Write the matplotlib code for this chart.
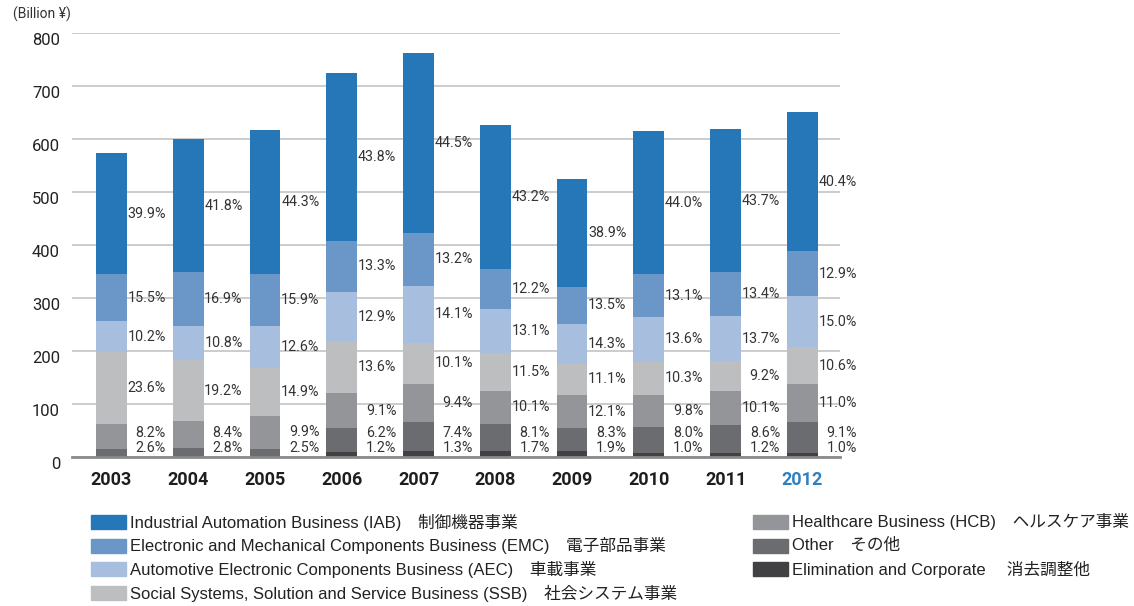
import matplotlib
matplotlib.use("Agg")
import matplotlib.pyplot as plt
from matplotlib.patches import Rectangle
from matplotlib.transforms import ScaledTranslation
import numpy as np

years = ["2003", "2004", "2005", "2006", "2007", "2008", "2009", "2010", "2011", "2012"]
totals = [573, 600, 617, 724, 763, 627, 525, 617, 620, 651]

# share of each segment (%) as printed next to the bars
pct_iab = [39.9, 41.8, 44.3, 43.8, 44.5, 43.2, 38.9, 44.0, 43.7, 40.4]
pct_emc = [15.5, 16.9, 15.9, 13.3, 13.2, 12.2, 13.5, 13.1, 13.4, 12.9]
pct_aec = [10.2, 10.8, 12.6, 12.9, 14.1, 13.1, 14.3, 13.6, 13.7, 15.0]
pct_ssb = [23.6, 19.2, 14.9, 13.6, 10.1, 11.5, 11.1, 10.3, 9.2, 10.6]
pct_hcb = [8.2, 8.4, 9.9, 9.1, 9.4, 10.1, 12.1, 9.8, 10.1, 11.0]
pct_other = [2.6, 2.8, 2.5, 6.2, 7.4, 8.1, 8.3, 8.0, 8.6, 9.1]
pct_elim = [0, 0, 0, 1.2, 1.3, 1.7, 1.9, 1.0, 1.2, 1.0]

names = [
    "Industrial Automation Business (IAB)\u3000制御機器事業",
    "Electronic and Mechanical Components Business (EMC)\u3000電子部品事業",
    "Automotive Electronic Components Business (AEC)\u3000車載事業",
    "Social Systems, Solution and Service Business (SSB)\u3000社会システム事業",
    "Healthcare Business (HCB)\u3000ヘルスケア事業",
    "Other\u3000その他",
    "Elimination and Corporate \u3000消去調整他",
]
colors = ["#2577b8", "#6b96c8", "#a8bedf", "#bdbec0", "#939598", "#6b6c70", "#414143"]

# bottom to top
stack = [pct_elim, pct_other, pct_hcb, pct_ssb, pct_aec, pct_emc, pct_iab]
stack_colors = colors[::-1]

narrow = ["Roboto", "DejaVu Sans"]
legend_font = ["Liberation Sans", "Noto Sans CJK JP", "DejaVu Sans"]
text_color = "#333333"

fig = plt.figure(figsize=(11.34, 6.06), dpi=100)
ax = fig.add_axes([72 / 1134, 1 - 456.7 / 606, 768 / 1134, 423.4 / 606])

x = np.arange(len(years))
width = 0.40
totals = np.array(totals, dtype=float)
bottom = np.zeros(len(years))
centers = []
for pct, col in zip(stack, stack_colors):
    h = totals * np.array(pct) / 100
    ax.bar(x, h, width, bottom=bottom, color=col, zorder=2)
    centers.append(bottom + h / 2)
    bottom = bottom + h

# percentage labels, pushed up where small segments would overlap
for i in range(len(years)):
    prev = None
    for pct, c in zip(stack, centers):
        if pct[i] == 0:
            continue
        y = max(c[i], 16) if prev is None else max(c[i], prev + 28)
        prev = y
        ax.text(x[i] + 0.71, y, f"{pct[i]:.1f}%", ha="right", va="center",
                fontsize=10.3, family=narrow, color=text_color, clip_on=False)

ax.set_xlim(-0.514, 9.49)
ax.set_ylim(0, 800)
ax.set_yticks(range(0, 801, 100))
ax.yaxis.grid(True, color="#c8c8c8", linewidth=1.3, zorder=0)
ax.set_axisbelow(True)
for s in ["top", "right", "left"]:
    ax.spines[s].set_visible(False)
ax.spines["bottom"].set_color("#8a8a8a")
ax.spines["bottom"].set_linewidth(2)
ax.spines["bottom"].set_zorder(3)
ax.tick_params(axis="y", length=0, pad=8.6, labelsize=12, labelcolor="#222222")
ax.tick_params(axis="x", length=0, pad=10, labelsize=13)
ax.set_xticks(x)
ax.set_xticklabels(years, fontweight="bold", family=narrow)
for lbl in ax.get_xticklabels():
    lbl.set_color("#2f80c0" if lbl.get_text() == "2012" else "#1e1e1e")
for lbl in ax.get_yticklabels():
    lbl.set_family(narrow)
    lbl.set_transform(lbl.get_transform() + ScaledTranslation(0, -0.06, fig.dpi_scale_trans))

fig.text(13 / 1134, 1 - 14 / 606, "(Billion ¥)", ha="left", va="center",
         fontsize=10, family=narrow, color=text_color)

# legend: two columns drawn by hand
cols = [(91, names[:4], colors[:4]), (753, names[4:], colors[4:])]
for x0, nm, cl in cols:
    for r, (n, c) in enumerate(zip(nm, cl)):
        yc = 522 + r * 23.7
        fig.add_artist(Rectangle((x0 / 1134, 1 - (yc + 7) / 606), 35 / 1134, 14 / 606,
                                 transform=fig.transFigure, color=c))
        fig.text((x0 + 39) / 1134, 1 - yc / 606, n, ha="left", va="center",
                 fontsize=12, family=legend_font, color="#222222")

fig.savefig("out.png", dpi=100)
